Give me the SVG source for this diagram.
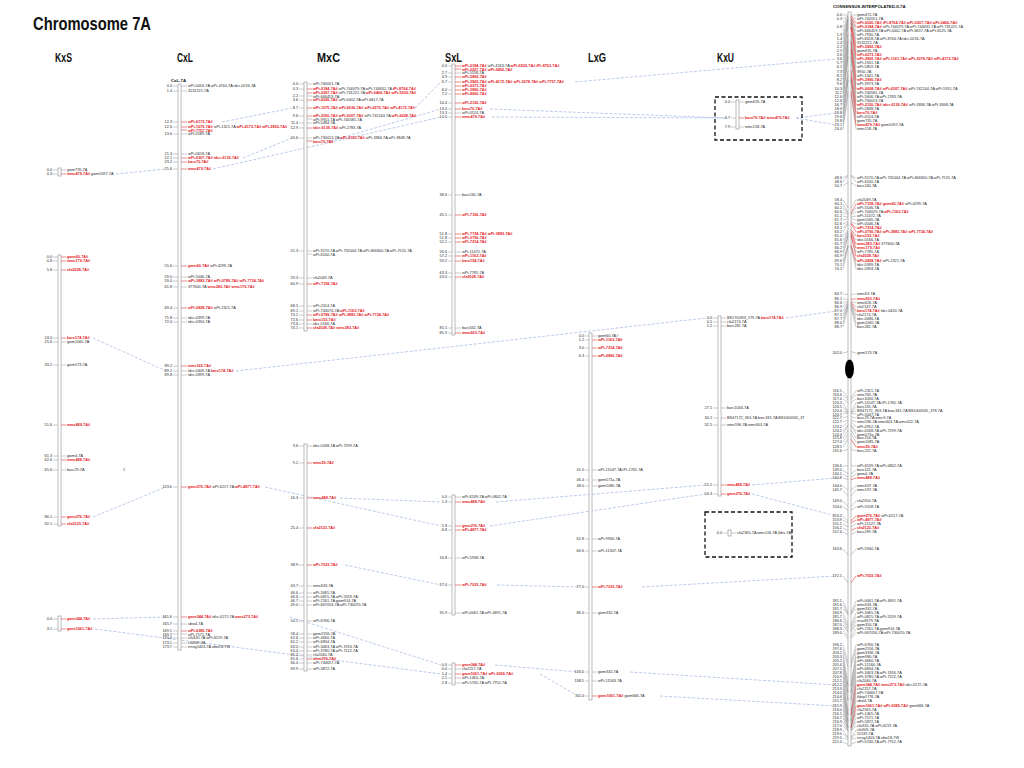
<svg xmlns="http://www.w3.org/2000/svg" width="1024" height="768" viewBox="0 0 1024 768">
<style>
text{font-family:"Liberation Sans",Arial,sans-serif;font-size:3.8px;fill:#2a2a2a}
.r{fill:#e3161b;font-weight:bold}
.n{text-anchor:end}
.hd{font-size:12px;font-weight:bold;fill:#111}
.ttl{font-size:18px;font-weight:bold;fill:#111}
.sub{font-size:4.3px;font-weight:bold;fill:#111}
.bar{fill:#fff;stroke:#7a7a7a;stroke-width:.5}
.tk{stroke:#8a8a8a;stroke-width:.45;fill:none}
.tr{stroke:#e3161b;stroke-width:.5;fill:none}
.cn{stroke:#8eaadb;stroke-width:.6;stroke-dasharray:3 1.6;fill:none}
.box{fill:none;stroke:#111;stroke-width:1.3;stroke-dasharray:4 2.5}
</style>
<rect width="1024" height="768" fill="#fff"/>
<text class="ttl" x="33" y="30" textLength="118" lengthAdjust="spacingAndGlyphs">Chromosome 7A</text>

<g id="connectors">
<path class="cn" d="M116 174L166 169M93 338L166 371M93 517L166 487M93 619L166 617M95 629L441 674M222 122L292 108M243 158L292 138M213 169L441 117M236 371L706 318M265 487L441 526M290 617L441 665M415 108L441 82M330 141L441 109M340 498L441 502M345 565L441 585M575 82L836 59M490 109L726 118M492 117L726 118M796 118L836 113M796 118L836 125M786 318L836 311M496 502L706 485M490 526L706 494M752 485L836 478M752 494L836 516M497 585L578 587M642 587L836 576M495 665L578 672M540 674L578 696M630 672L836 685M660 696L836 706"/>
</g>

<g id="KxS">
<text class="hd" x="55" y="62" textLength="17" lengthAdjust="spacingAndGlyphs">KxS</text>
<rect class="bar" x="58" y="168" width="3" height="8"/>
<rect class="bar" x="58" y="255" width="3" height="271"/>
<rect class="bar" x="58" y="616" width="3" height="15"/>
<path class="tk" d="M53 170H58M53 174H58M53 257H58M53 261H58M53 270H58M53 338H58M53 342H58M53 365H58M53 425H58M53 456H58M53 460H58M53 470H58M53 517H58M53 524H58M53 619H58M53 629H58M61 170H66M61 342H66M61 365H66M61 456H66M61 470H66"/>
<path class="tr" d="M61 174H66M61 257H66M61 261H66M61 270H66M61 338H66M61 425H66M61 460H66M61 517H66M61 524H66M61 619H66M61 629H66"/>
<text class="n" x="52" y="171.3">0.0</text><text x="67" y="171.3">gwm735-7A</text>
<text class="n" x="52" y="175.3">0.3</text><text x="67" y="175.3"><tspan class="r">wmc479-7A#</tspan> gwm1097-7A</text>
<text class="n" x="52" y="258.3">0.0</text><text class="r" x="67" y="258.3">gwm60-7A#</text>
<text class="n" x="52" y="262.3">0.8</text><text class="r" x="67" y="262.3">wmc179-7A#</text>
<text class="n" x="52" y="271.3">5.8</text><text class="r" x="67" y="271.3">cfa2028-7A#</text>
<text class="n" x="52" y="339.3">24.0</text><text class="r" x="67" y="339.3">barc174-7A#</text>
<text class="n" x="52" y="343.3">25.6</text><text x="67" y="343.3">gwm1065-7A</text>
<text class="n" x="52" y="366.3">33.2</text><text x="67" y="366.3">gwm573-7A</text>
<text class="n" x="52" y="426.3">51.6</text><text class="r" x="67" y="426.3">wmc489-7A#</text>
<text class="n" x="52" y="457.3">61.3</text><text x="67" y="457.3">gwm4-7A</text>
<text class="n" x="52" y="461.3">62.6</text><text class="r" x="67" y="461.3">wmc488-7A#</text>
<text class="n" x="52" y="471.3">65.6</text><text x="67" y="471.3">barc29-7A</text>
<text x="123" y="471.3">1</text>
<text class="n" x="52" y="518.3">86.1</text><text class="r" x="67" y="518.3">gwm276-7A#</text>
<text class="n" x="52" y="525.3">92.1</text><text class="r" x="67" y="525.3">cfa2123-7A#</text>
<text class="n" x="52" y="620.3">0.0</text><text class="r" x="67" y="620.3">gwm344-7A#</text>
<text class="n" x="52" y="630.3">3.1</text><text class="r" x="67" y="630.3">gwm1061-7A#</text>
</g>

<g id="CxL">
<text class="hd" x="177" y="62" textLength="16" lengthAdjust="spacingAndGlyphs">CxL</text>
<text class="sub" x="171" y="81.5">CxL-7A</text>
<rect class="bar" x="178" y="84" width="3" height="566"/>
<path class="tk" d="M173 86H178M173 91H178M173 122H178M173 127H178M173 134H178M173 154H178M173 158H178M173 162H178M173 169H178M173 266H178M173 277H178M173 281H178M173 287H178M173 308H178M173 318H178M173 322H178M173 366H178M173 371H178M173 375H178M173 487H178M173 617H178M173 624H178M173 631H178M173 634H178M173 638H178M173 643H178M173 647H178M181 86H187M181 91H187M181 134H187M181 154H187M181 277H187M181 287H187M181 318H187M181 322H187M181 371H187M181 375H187M181 624H187M181 634H187M181 638H187M181 643H187M181 647H187"/>
<path class="tr" d="M181 122H187M181 127H187M181 130H187M181 158H187M181 162H187M181 169H187M181 266H187M181 281H187M181 308H187M181 366H187M181 487H187M181 617H187M181 631H187"/>
<text class="n" x="172" y="87.3">0.0</text><text x="188" y="87.3">wPt-0416-7A wPt-4744-7A tdcr-0216-7A</text>
<text class="n" x="172" y="92.3">1.4</text><text x="188" y="92.3">3132221-7A</text>
<text class="n" x="172" y="123.3">12.3</text><text class="r" x="188" y="123.3">wPt-6173-7A#</text>
<text class="n" x="172" y="128.3">12.6</text><text x="188" y="128.3"><tspan class="r">wPt-1075-7A#</tspan> wPt-1321-7A <tspan class="r">wPt-4172-7A# wPt-2830-7A#</tspan></text>
<text class="r" x="188" y="131.6">wPt-7757-7A#</text>
<text class="n" x="172" y="135.3">13.6</text><text x="188" y="135.3">wPt-0589-7A</text>
<text class="n" x="172" y="155.3">21.3</text><text x="188" y="155.3">wPt-0618-7A</text>
<text class="n" x="172" y="159.3">22.1</text><text class="r" x="188" y="159.3">wPt-6307-7A# tdcr-6139-7A#</text>
<text class="n" x="172" y="163.3">23.2</text><text class="r" x="188" y="163.3">barc70-7A#</text>
<text class="n" x="172" y="170.3">25.6</text><text class="r" x="188" y="170.3">wmc479-7A#</text>
<text class="n" x="172" y="267.3">55.6</text><text x="188" y="267.3"><tspan class="r">gwm60-7A#</tspan> wPt-4299-7A</text>
<text class="n" x="172" y="278.3">59.0</text><text x="188" y="278.3">wPt-5046-7A</text>
<text class="n" x="172" y="282.3">59.0</text><text class="r" x="188" y="282.3">wPt-3883-7A# wPt-0789-7A# wPt-7724-7A#</text>
<text class="n" x="172" y="288.3">61.8</text><text x="188" y="288.3">377600-7A <tspan class="r">wmc283-7A# wmc179-7A#</tspan></text>
<text class="n" x="172" y="309.3">69.4</text><text x="188" y="309.3"><tspan class="r">wPt-0828-7A#</tspan> wPt-2321-7A</text>
<text class="n" x="172" y="319.3">71.8</text><text x="188" y="319.3">tdcr-0399-7A</text>
<text class="n" x="172" y="323.3">72.0</text><text x="188" y="323.3">tdcr-0394-7A</text>
<text class="n" x="172" y="367.3">89.2</text><text class="r" x="188" y="367.3">wmc165-7A#</text>
<text class="n" x="172" y="372.3">89.2</text><text x="188" y="372.3">tdcr-0409-7A <tspan class="r">barc174-7A#</tspan></text>
<text class="n" x="172" y="376.3">89.8</text><text x="188" y="376.3">tdcr-0399-7A</text>
<text class="n" x="172" y="488.3">123.6</text><text x="188" y="488.3"><tspan class="r">gwm276-7A#</tspan> wPt-6217-7A <tspan class="r">wPt-4877-7A#</tspan></text>
<text class="n" x="172" y="618.3">161.6</text><text x="188" y="618.3"><tspan class="r">gwm344-7A#</tspan> tdcr-0172-7A <tspan class="r">wmc273-7A#</tspan></text>
<text class="n" x="172" y="625.3">165.7</text><text x="188" y="625.3">ubw4-7A</text>
<text class="n" x="172" y="632.3">169.1</text><text class="r" x="188" y="632.3">wPt-6385-7A#</text>
<text class="n" x="172" y="635.6">169.7</text><text x="188" y="635.6">wPt-7571-7A</text>
<text class="n" x="172" y="639.3">170.4</text><text x="188" y="639.3">cfa320-7A wPt-6219-7A</text>
<text class="n" x="172" y="644.3">173.1</text><text x="188" y="644.3">cfa909-7A</text>
<text class="n" x="172" y="648.3">173.7</text><text x="188" y="648.3">rrnsg1403-7A ubw18-7W</text>
</g>

<g id="MxC">
<text class="hd" x="317" y="62" textLength="23" lengthAdjust="spacingAndGlyphs">MxC</text>
<rect class="bar" x="304" y="82" width="3" height="249"/>
<rect class="bar" x="304" y="444" width="3" height="227"/>
<path class="tk" d="M299 84H304M299 89H304M299 96H304M299 100H304M299 108H304M299 116H304M299 123H304M299 128H304M299 138H304M299 251H304M299 278H304M299 284H304M299 306H304M299 311H304M299 315H304M299 320H304M299 324H304M299 328H304M299 446H304M299 463H304M299 498H304M299 528H304M299 565H304M299 586H304M299 593H304M299 597H304M299 601H304M299 605H304M299 621H304M299 634H304M299 638H304M299 642H304M299 647H304M299 651H304M299 655H304M299 659H304M299 663H304M299 669H304M307 84H312M307 96H312M307 119H312M307 123H312M307 138H312M307 251H312M307 254H312M307 278H312M307 306H312M307 311H312M307 324H312M307 446H312M307 586H312M307 593H312M307 597H312M307 601H312M307 605H312M307 621H312M307 634H312M307 638H312M307 642H312M307 647H312M307 651H312M307 655H312M307 663H312M307 669H312"/>
<path class="tr" d="M307 89H312M307 93H312M307 100H312M307 108H312M307 116H312M307 128H312M307 141H312M307 284H312M307 315H312M307 320H312M307 328H312M307 463H312M307 498H312M307 528H312M307 565H312M307 659H312"/>
<text class="n" x="298" y="85.3">0.0</text><text x="313" y="85.3">wPt-740051-7A</text>
<text class="n" x="298" y="90.3">0.3</text><text x="313" y="90.3"><tspan class="r">wPt-0184-7A#</tspan> wPt-744079-7A wPt-744631-7A <tspan class="r">tPt-8764-7A#</tspan></text>
<text x="313" y="94.3"><tspan class="r">wPt-0207-7A#</tspan> wPt-731221-7A <tspan class="r">wPt-0466-7A# wPt-5030-7A#</tspan></text>
<text class="n" x="298" y="97.3">2.2</text><text x="313" y="97.6">wPt-666459-7A</text>
<text class="n" x="298" y="101.3">3.6</text><text x="313" y="101.3"><tspan class="r">wPt-6020-7A#</tspan> wPt-0002-7A wPt-6617-7A</text>
<text class="n" x="298" y="109.3">8.7</text><text class="r" x="313" y="109.3">wPt-1075-7A# wPt-6036-7A# wPt-6275-7A# wPt-4172-7A#</text>
<text class="n" x="298" y="117.3">9.6</text><text x="313" y="117.3"><tspan class="r">wPt-2050-7A# wPt-6307-7A#</tspan> wPt-742244-7A <tspan class="r">wPt-6638-7A#</tspan></text>
<text x="313" y="120.6">wPt-9951-7A wPt-740581-7A</text>
<text class="n" x="298" y="124.3">11.4</text><text x="313" y="124.3">wPt-5484-7A</text>
<text class="n" x="298" y="129.3">12.9</text><text x="313" y="129.3"><tspan class="r">tdcr-6139-7A#</tspan> wPt-2783-7A</text>
<text class="n" x="298" y="139.3">20.6</text><text x="313" y="139.3">wPt-730013-7A <tspan class="r">wPt-2120-7A#</tspan> wPt-3384-7A wPt-3848-7A</text>
<text class="r" x="313" y="142.8">barc70-7A#</text>
<text class="n" x="298" y="252.3">51.3</text><text x="313" y="252.3">wPt-9170-7A wPt-732044-7A wPt-666300-7A wPt-7515-7A</text>
<text x="313" y="255.8">wPt-6100-7A</text>
<text class="n" x="298" y="279.3">59.3</text><text x="313" y="279.3">cfa2049-7A</text>
<text class="n" x="298" y="285.3">60.9</text><text class="r" x="313" y="285.3">wPt-7158-7A#</text>
<text class="n" x="298" y="307.3">68.5</text><text x="313" y="307.3">wPt-2014-7A</text>
<text class="n" x="298" y="312.3">69.1</text><text x="313" y="312.3">wPt-744074-7A <tspan class="r">wPt-1163-7A#</tspan></text>
<text class="n" x="298" y="316.3">70.2</text><text class="r" x="313" y="316.3">wPt-0789-7A# wPt-3883-7A# wPt-7724-7A#</text>
<text class="n" x="298" y="321.3">72.6</text><text class="r" x="313" y="321.3">barc153-7A#</text>
<text class="n" x="298" y="325.3">73.6</text><text x="313" y="325.3">tdcr-0166-7A</text>
<text class="n" x="298" y="329.3">74.1</text><text class="r" x="313" y="329.3">cfa2028-7A# wmc283-7A#</text>
<text class="n" x="298" y="447.3">3.6</text><text x="313" y="447.3">tdcr-0168-7A wPt-7299-7A</text>
<text class="n" x="298" y="464.3">9.2</text><text class="r" x="313" y="464.3">wmc59-7A#</text>
<text class="n" x="298" y="499.3">16.3</text><text class="r" x="313" y="499.3">wmc488-7A#</text>
<text class="n" x="298" y="529.3">25.4</text><text class="r" x="313" y="529.3">cfa2123-7A#</text>
<text class="n" x="298" y="566.3">38.9</text><text class="r" x="313" y="566.3">wPt-7033-7A#</text>
<text class="n" x="298" y="587.3">43.7</text><text x="313" y="587.3">wmc633-7A</text>
<text class="n" x="298" y="594.3">46.6</text><text x="313" y="594.3">wPt-3465-7A</text>
<text class="n" x="298" y="598.3">46.6</text><text x="313" y="598.3">wPt-0815-7A wPt-5559-7A</text>
<text class="n" x="298" y="602.3">46.7</text><text x="313" y="602.3">wPt-7261-7A gwm914-7A</text>
<text class="n" x="298" y="606.3">49.0</text><text x="313" y="606.3">wPt-667056-7A wPt-730070-7A</text>
<text class="n" x="298" y="622.3">54.1</text><text x="313" y="622.3">wPt-6766-7A</text>
<text class="n" x="298" y="635.3">58.4</text><text x="313" y="635.3">gwm2556-7A</text>
<text class="n" x="298" y="639.3">62.6</text><text x="313" y="639.3">wPt-4660-7A</text>
<text class="n" x="298" y="643.3">62.2</text><text x="313" y="643.3">wPt-6834-7A</text>
<text class="n" x="298" y="648.3">63.0</text><text x="313" y="648.3">wPt-3463-7A wPt-1916-7A</text>
<text class="n" x="298" y="652.3">63.4</text><text x="313" y="652.3">wPt-3780-7A wPt-7122-7A</text>
<text class="n" x="298" y="656.3">65.2</text><text x="313" y="656.3">cfa2040-7A</text>
<text class="n" x="298" y="660.3">65.6</text><text class="r" x="313" y="660.3">wmc276-7A#</text>
<text class="n" x="298" y="664.3">66.4</text><text x="313" y="664.3">wPt-744657-7A</text>
<text class="n" x="298" y="670.3">69.9</text><text x="313" y="670.3">wPt-3872-7A</text>
</g>

<g id="SxL">
<text class="hd" x="445" y="62" textLength="17" lengthAdjust="spacingAndGlyphs">SxL</text>
<rect class="bar" x="452" y="64" width="3" height="271"/>
<rect class="bar" x="452" y="495" width="3" height="120"/>
<rect class="bar" x="452" y="663" width="3" height="22"/>
<path class="tk" d="M448 66H452M448 73H452M448 77H452M448 82H452M448 90H452M448 94H452M448 103H452M448 109H452M448 113H452M448 117H452M448 195H452M448 215H452M448 234H452M448 238H452M448 242H452M448 252H452M448 256H452M448 261H452M448 273H452M448 277H452M448 328H452M448 333H452M448 497H452M448 502H452M448 526H452M448 530H452M448 558H452M448 585H452M448 613H452M448 665H452M448 669H452M448 674H452M448 678H452M448 683H452M455 73H461M455 113H461M455 195H461M455 252H461M455 273H461M455 328H461M455 497H461M455 558H461M455 613H461M455 669H461M455 678H461M455 683H461"/>
<path class="tr" d="M455 66H461M455 69H461M455 77H461M455 82H461M455 86H461M455 90H461M455 94H461M455 103H461M455 109H461M455 117H461M455 215H461M455 234H461M455 238H461M455 242H461M455 256H461M455 261H461M455 277H461M455 333H461M455 502H461M455 526H461M455 530H461M455 585H461M455 665H461M455 674H461"/>
<text class="n" x="447" y="67.3">0.0</text><text x="462" y="67.3"><tspan class="r">wPt-0184-7A#</tspan> wPt-4563-7A <tspan class="r">wPt-6520-7A# tPt-8763-7A#</tspan></text>
<text class="r" x="462" y="70.6">wPt-0207-7A# wPt-5450-7A#</text>
<text class="n" x="447" y="74.3">2.7</text><text x="462" y="74.3">wPt-5558-7A</text>
<text class="n" x="447" y="78.3">4.9</text><text class="r" x="462" y="78.3">wPt-5892-7A#</text>
<text class="n" x="447" y="83.3">6.7</text><text class="r" x="462" y="83.3">wPt-2805-7A# wPt-4172-7A# wPt-3078-7A# wPt-7757-7A#</text>
<text class="r" x="462" y="87.3">wPt-6273-7A#</text>
<text class="n" x="447" y="91.3">6.0</text><text class="r" x="462" y="91.3">wPt-2890-7A#</text>
<text class="n" x="447" y="95.3">7.2</text><text class="r" x="462" y="95.3">wPt-8660-7A#</text>
<text class="n" x="447" y="104.3">10.4</text><text class="r" x="462" y="104.3">wPt-2120-7A#</text>
<text class="n" x="447" y="110.3">13.0</text><text class="r" x="462" y="110.3">barc70-7A#</text>
<text class="n" x="447" y="114.3">13.3</text><text x="462" y="114.3">wPt-0524-7A</text>
<text class="n" x="447" y="118.3">14.0</text><text class="r" x="462" y="118.3">wmc479-7A#</text>
<text class="n" x="447" y="196.3">38.6</text><text x="462" y="196.3">barc240-7A</text>
<text class="n" x="447" y="216.3">45.1</text><text class="r" x="462" y="216.3">wPt-7166-7A#</text>
<text class="n" x="447" y="235.3">51.8</text><text class="r" x="462" y="235.3">wPt-7724-7A# wPt-3883-7A#</text>
<text class="n" x="447" y="239.3">51.8</text><text class="r" x="462" y="239.3">wPt-0790-7A#</text>
<text class="n" x="447" y="243.3">52.1</text><text class="r" x="462" y="243.3">wPt-7214-7A#</text>
<text class="n" x="447" y="253.3">56.6</text><text x="462" y="253.3">wPt-11472-7A</text>
<text class="n" x="447" y="257.3">57.2</text><text class="r" x="462" y="257.3">wPt-1163-7A#</text>
<text class="n" x="447" y="262.3">59.2</text><text class="r" x="462" y="262.3">barc154-7A#</text>
<text class="n" x="447" y="274.3">63.3</text><text x="462" y="274.3">wPt-7785-7A</text>
<text class="n" x="447" y="278.3">63.0</text><text class="r" x="462" y="278.3">cfa2028-7A#</text>
<text class="n" x="447" y="329.3">85.5</text><text x="462" y="329.3">barc632-7A</text>
<text class="n" x="447" y="334.3">85.9</text><text class="r" x="462" y="334.3">wmc603-7A#</text>
<text class="n" x="447" y="498.3">0.0</text><text x="462" y="498.3">wPt-6539-7A wPt-0842-7A</text>
<text class="n" x="447" y="503.3">1.3</text><text class="r" x="462" y="503.3">wmc488-7A#</text>
<text class="n" x="447" y="527.3">5.8</text><text class="r" x="462" y="527.3">gwm276-7A#</text>
<text class="n" x="447" y="531.3">6.8</text><text class="r" x="462" y="531.3">wPt-4877-7A#</text>
<text class="n" x="447" y="559.3">16.8</text><text x="462" y="559.3">wPt-5938-7A</text>
<text class="n" x="447" y="586.3">27.0</text><text class="r" x="462" y="586.3">wPt-7033-7A#</text>
<text class="n" x="447" y="614.3">35.9</text><text x="462" y="614.3">wPt-0061-7A wPt-4691-7A</text>
<text class="n" x="447" y="666.3">0.0</text><text class="r" x="462" y="666.3">gwm344-7A#</text>
<text class="n" x="447" y="670.3">0.0</text><text x="462" y="670.3">cfa2257-7A</text>
<text class="n" x="447" y="675.3">1.4</text><text class="r" x="462" y="675.3">gwm1061-7A# wPt-6365-7A#</text>
<text class="n" x="447" y="679.3">2.1</text><text x="462" y="679.3">wPt-1465-7A</text>
<text class="n" x="447" y="684.3">2.8</text><text x="462" y="684.3">wPt-5745-7A wPt-7752-7A</text>
</g>

<g id="LxG">
<text class="hd" x="588" y="62" textLength="18" lengthAdjust="spacingAndGlyphs">LxG</text>
<rect class="bar" x="589" y="333" width="3" height="367"/>
<path class="tk" d="M585 336H589M585 340H589M585 348H589M585 356H589M585 470H589M585 480H589M585 486H589M585 539H589M585 551H589M585 587H589M585 613H589M585 672H589M585 681H589M585 696H589M592 336H597M592 470H597M592 480H597M592 486H597M592 539H597M592 551H597M592 613H597M592 672H597M592 681H597"/>
<path class="tr" d="M592 340H597M592 348H597M592 356H597M592 587H597M592 696H597"/>
<text class="n" x="584" y="337.3">0.0</text><text x="598" y="337.3">gwm60-7A#</text>
<text class="n" x="584" y="341.3">1.2</text><text class="r" x="598" y="341.3">wPt-1163-7A#</text>
<text class="n" x="584" y="349.3">3.0</text><text class="r" x="598" y="349.3">wPt-7214-7A#</text>
<text class="n" x="584" y="357.3">6.3</text><text class="r" x="598" y="357.3">wPt-0890-7A#</text>
<text class="n" x="584" y="471.3">41.0</text><text x="598" y="471.3">wPt-11547-7A tPt-1765-7A</text>
<text class="n" x="584" y="481.3">46.4</text><text x="598" y="481.3">gwm571a-7A</text>
<text class="n" x="584" y="487.3">48.0</text><text x="598" y="487.3">gwm1085-7A</text>
<text class="n" x="584" y="540.3">62.8</text><text x="598" y="540.3">wPt-9930-7A</text>
<text class="n" x="584" y="552.3">66.6</text><text x="598" y="552.3">wPt-11307-7A</text>
<text class="n" x="584" y="588.3">77.0</text><text class="r" x="598" y="588.3">wPt-7033-7A#</text>
<text class="n" x="584" y="614.3">86.0</text><text x="598" y="614.3">gwm332-7A</text>
<text class="n" x="584" y="673.3">133.0</text><text x="598" y="673.3">gwm342-7A</text>
<text class="n" x="584" y="682.3">138.5</text><text x="598" y="682.3">wPt-11563-7A</text>
<text class="n" x="584" y="697.3">111.0</text><text x="598" y="697.3"><tspan class="r">gwm1061-7A#</tspan> gwm666-7A</text>
</g>

<g id="KxU">
<text class="hd" x="717" y="62" textLength="17" lengthAdjust="spacingAndGlyphs">KxU</text>
<rect class="box" x="715" y="97" width="87" height="43"/>
<rect class="bar" x="736" y="100" width="3" height="29"/>
<path class="tk" d="M731 102H736M731 118H736M731 127H736M739 102H744M739 127H744"/>
<path class="tr" d="M739 118H744"/>
<text class="n" x="730" y="103.3">0.0</text><text x="745" y="103.3">gwm635-7A</text>
<text class="n" x="730" y="119.3">4.7</text><text class="r" x="745" y="119.3">barc70-7A# wmc479-7A#</text>
<text class="n" x="730" y="128.3">7.9</text><text x="745" y="128.3">wmc158-7A</text>
<rect class="bar" x="718" y="316" width="3" height="180"/>
<path class="tk" d="M713 318H718M713 322H718M713 326H718M713 408H718M713 418H718M713 425H718M713 485H718M713 494H718M721 318H726M721 322H726M721 326H726M721 408H726M721 418H726M721 425H726"/>
<path class="tr" d="M721 485H726M721 494H726"/>
<text class="n" x="712" y="319.3">0.0</text><text x="727" y="319.3">BS17/0493_179-7A <tspan class="r">barc174-7A#</tspan></text>
<text class="n" x="712" y="323.3">0.5</text><text x="727" y="323.3">cfa2174-7A</text>
<text class="n" x="712" y="327.3">1.2</text><text x="727" y="327.3">barc282-7A</text>
<text class="n" x="712" y="409.3">27.1</text><text x="727" y="409.3">barc1034-7A</text>
<text class="n" x="712" y="419.3">30.2</text><text x="727" y="419.3">BS47172_363-7A barc181-7A BS1000565_37</text>
<text class="n" x="712" y="426.3">32.5</text><text x="727" y="426.3">wmc596-7A wmc603-7A</text>
<text class="n" x="712" y="486.3">51.2</text><text class="r" x="727" y="486.3">wmc488-7A#</text>
<text class="n" x="712" y="495.3">54.3</text><text class="r" x="727" y="495.3">gwm276-7A#</text>
<rect class="box" x="705" y="512" width="87" height="45"/>
<rect class="bar" x="728" y="530" width="3" height="6"/>
<path class="tk" d="M723 533H728M731 533H736"/>
<text class="n" x="722" y="534.3">0.0</text><text x="737" y="534.3">cfa2365-7A wmc116-7A (kbs-7A)</text>
</g>

<g id="Consensus">
<text class="sub" x="833" y="8">CONSENSUS-INTERPOLATED-II-7A</text>
<rect class="bar" x="848" y="12" width="3" height="734"/>
<ellipse cx="849.5" cy="369" rx="4.5" ry="9.5" fill="#000"/>
<path class="tk" d="M843 15L848 15M843 19L848 16M843 23L848 16M843 27L848 17.6M843 31L848 17.6M843 35L848 19.3M843 39L848 19.6M843 43L848 19.6M843 47L848 22.3M843 51L848 23.3M843 55L848 26.9M843 59L848 26.9M843 63L848 33.8M843 67L848 35.1M843 72L848 39.1M843 76L848 41.7M843 80L848 42.1M843 84L848 46.7M843 89L848 49M843 93L848 52M843 97L848 56.6M843 101L848 56.6M843 105L848 70.1M843 109L848 74.4M843 113L848 77M843 117L848 79.7M843 121L848 80.3M843 125L848 91.2M843 129L848 94.2M843 178L848 175.4M843 182L848 175.4M843 186L848 182.3M843 200L848 207.7M843 204L848 213.3M843 208L848 213.7M843 212L848 215M843 216L848 217M843 220L848 218.6M843 224L848 221.6M843 228L848 223.2M843 232L848 223.6M843 236L848 229.5M843 240L848 231.5M843 244L848 231.8M843 248L848 233.5M843 252L848 235.8M843 256L848 235.8M843 261L848 244.7M843 265L848 246.3M843 269L848 246.3M843 294L848 294.5M843 299L848 299.1M843 303L848 300.8M843 307L848 301.8M843 311L848 302.1M843 315L848 303.8M843 319L848 304.4M843 323L848 305.4M843 327L848 307.7M843 353L848 351.6M843 391L848 398.1M843 395L848 399.8M843 399L848 402.4M843 403L848 412M843 407L848 412.7M843 411L848 412.5M843 414L848 413.3M843 418L848 416.6M843 422L848 419.9M843 427L848 421.6M843 431L848 424.9M843 434L848 425.5M843 438L848 430.1M843 442L848 434.1M843 447L848 439.1M843 451L848 449.3M843 466L848 465.8M843 470L848 473.7M843 474L848 477.3M843 478L848 479.6M843 486L848 490.2M843 490L848 495.8M843 501L848 506.7M843 507L848 510M843 516L848 520.9M843 520L848 522.9M843 524L848 526.8M843 528L848 530.5M843 532L848 534.4M843 549L848 554.9M843 576L848 582.9M843 601L848 612.6M843 605L848 614.3M843 609L848 614.6M843 613L848 625.2M843 617L848 627.8M843 621L848 630.8M843 625L848 632.1M843 629L848 636.4M843 633L848 638.7M843 645L848 662.5M843 649L848 667.1M843 653L848 685.6M843 657L848 685.9M843 661L848 692.2M843 665L848 692.8M843 669L848 699.8M843 673L848 700.7M843 677L848 711M843 681L848 715M843 685L848 715.3M843 689L848 720.9M843 693L848 721.2M843 697L848 722.5M843 701L848 726.8M843 706L848 727.5M843 710L848 727.8M843 714L848 728.1M843 718L848 730.1M843 722L848 730.8M843 726L848 731.1M843 730L848 737.4M843 734L848 737.7M843 738L848 739.4M843 742L848 744.3"/>
<path class="tk" d="M851 15L856 15M851 16L856 19M851 17.6L856 31M851 19.3L856 35M851 19.6L856 39M851 19.6L856 43M851 23.3L856 51M851 33.8L856 63M851 35.1L856 67M851 39.1L856 72M851 41.7L856 76M851 46.7L856 84M851 52L856 93M851 56.6L856 97M851 56.6L856 101M851 74.4L856 109M851 79.7L856 117M851 80.3L856 121M851 94.2L856 129M851 175.4L856 178M851 175.4L856 182M851 182.3L856 186M851 207.7L856 200M851 213.7L856 208M851 215L856 212M851 217L856 216M851 218.6L856 220M851 221.6L856 224M851 231.5L856 240M851 235.8L856 252M851 246.3L856 265M851 246.3L856 269M851 294.5L856 294M851 300.8L856 303M851 301.8L856 307M851 303.8L856 315M851 304.4L856 319M851 305.4L856 323M851 307.7L856 327M851 351.6L856 353M851 398.1L856 391M851 399.8L856 395M851 402.4L856 399M851 412L856 403M851 412.7L856 407M851 412.5L856 411M851 413.3L856 414M851 416.6L856 418M851 419.9L856 422M851 421.6L856 427M851 424.9L856 431M851 425.5L856 434M851 430.1L856 438M851 434.1L856 442M851 449.3L856 451M851 465.8L856 466M851 473.7L856 470M851 477.3L856 474M851 490.2L856 486M851 495.8L856 490M851 506.7L856 501M851 510L856 507M851 526.8L856 524M851 534.4L856 532M851 554.9L856 549M851 612.6L856 601M851 614.3L856 605M851 614.6L856 609M851 625.2L856 613M851 627.8L856 617M851 630.8L856 621M851 632.1L856 625M851 636.4L856 629M851 638.7L856 633M851 662.5L856 645M851 667.1L856 649M851 685.6L856 653M851 685.9L856 657M851 692.2L856 661M851 692.8L856 665M851 699.8L856 669M851 700.7L856 673M851 711L856 677M851 715L856 681M851 720.9L856 689M851 721.2L856 693M851 722.5L856 697M851 726.8L856 701M851 727.8L856 710M851 728.1L856 714M851 730.1L856 718M851 730.8L856 722M851 731.1L856 726M851 737.4L856 730M851 737.7L856 734M851 739.4L856 738M851 744.3L856 742"/>
<path class="tr" d="M851 16L856 23M851 17.6L856 27M851 22.3L856 47M851 26.9L856 55M851 26.9L856 59M851 42.1L856 80M851 49L856 89M851 70.1L856 105M851 77L856 113M851 91.2L856 125M851 213.3L856 204M851 223.2L856 228M851 223.6L856 232M851 229.5L856 236M851 231.8L856 244M851 233.5L856 248M851 235.8L856 256M851 244.7L856 261M851 299.1L856 299M851 302.1L856 311M851 439.1L856 447M851 479.6L856 478M851 520.9L856 516M851 522.9L856 520M851 530.5L856 528M851 582.9L856 576M851 715.3L856 685M851 727.5L856 706"/>
<text class="n" x="842" y="16.3">0.0</text><text x="857" y="16.3">gwm471-7A</text>
<text class="n" x="842" y="20.3">0.3</text><text x="857" y="20.3">wPt-742051-7A</text>
<text class="r" x="857" y="24.3">wPt-6020-7A# tPt-8764-7A# wPt-0207-7A# wPt-0466-7A#</text>
<text class="n" x="842" y="28.3">0.8</text><text x="857" y="28.3"><tspan class="r">wPt-0184-7A#</tspan> wPt-744079-7A wPt-744631-7A wPt-731221-7A</text>
<text x="857" y="32.3">wPt-666459-7A wPt-0002-7A wPt-6617-7A wPt-6525-7A</text>
<text class="n" x="842" y="36.3">1.3</text><text x="857" y="36.3">wPt-7930-7A</text>
<text class="n" x="842" y="40.3">1.4</text><text x="857" y="40.3">wPt-8418-7A wPt-8744-7A tdcr-0216-7A</text>
<text class="n" x="842" y="44.3">1.4</text><text x="857" y="44.3">3132221-7A</text>
<text class="n" x="842" y="48.3">2.2</text><text class="r" x="857" y="48.3">wPt-5892-7A#</text>
<text class="n" x="842" y="52.3">2.5</text><text x="857" y="52.3">gwm635-7A</text>
<text class="n" x="842" y="56.3">3.6</text><text class="r" x="857" y="56.3">wPt-6273-7A#</text>
<text class="n" x="842" y="60.3">3.6</text><text class="r" x="857" y="60.3">wPt-2805-7A# wPt-1161-7A# wPt-3078-7A# wPt-4172-7A#</text>
<text class="n" x="842" y="64.3">5.7</text><text x="857" y="64.3">wPt-1901-7A</text>
<text class="n" x="842" y="68.3">6.1</text><text x="857" y="68.3">wPt-5859-7A</text>
<text class="n" x="842" y="73.3">7.3</text><text x="857" y="73.3">3950-7A</text>
<text class="n" x="842" y="77.3">8.1</text><text x="857" y="77.3">wPt-1441-7A</text>
<text class="n" x="842" y="81.3">8.2</text><text class="r" x="857" y="81.3">wPt-2890-7A#</text>
<text class="n" x="842" y="85.3">9.6</text><text x="857" y="85.3">wPt-3973-7A</text>
<text class="n" x="842" y="90.3">10.3</text><text x="857" y="90.3"><tspan class="r">wPt-6608-7A# wPt-6307-7A#</tspan> wPt-742244-7A wPt-5951-7A</text>
<text class="n" x="842" y="94.3">11.2</text><text x="857" y="94.3">wPt-740581-7A</text>
<text class="n" x="842" y="98.3">12.6</text><text x="857" y="98.3">wPt-5606-7A wPt-2783-7A</text>
<text class="n" x="842" y="102.3">12.6</text><text x="857" y="102.3">wPt-730013-7A</text>
<text class="n" x="842" y="106.3">16.7</text><text x="857" y="106.3"><tspan class="r">wPt-2120-7A# tdcr-6139-7A#</tspan> wPt-3384-7A wPt-3848-7A</text>
<text class="n" x="842" y="110.3">18.0</text><text x="857" y="110.3">wPt-5848-7A</text>
<text class="n" x="842" y="114.3">18.8</text><text class="r" x="857" y="114.3">barc70-7A#</text>
<text class="n" x="842" y="118.3">19.6</text><text x="857" y="118.3">wPt-0524-7A</text>
<text class="n" x="842" y="122.3">19.8</text><text x="857" y="122.3">gwm735-7A</text>
<text class="n" x="842" y="126.3">23.1</text><text x="857" y="126.3"><tspan class="r">wmc479-7A#</tspan> gwm1097-7A</text>
<text class="n" x="842" y="130.3">24.0</text><text x="857" y="130.3">wmc158-7A</text>
<text class="n" x="842" y="179.3">48.6</text><text x="857" y="179.3">wPt-9170-7A wPt-732044-7A wPt-666300-7A wPt-7515-7A</text>
<text class="n" x="842" y="183.3">48.6</text><text x="857" y="183.3">wPt-6100-7A</text>
<text class="n" x="842" y="187.3">50.7</text><text x="857" y="187.3">barc240-7A</text>
<text class="n" x="842" y="201.3">58.4</text><text x="857" y="201.3">cfa2049-7A</text>
<text class="n" x="842" y="205.3">60.1</text><text x="857" y="205.3"><tspan class="r">wPt-7158-7A# gwm60-7A#</tspan> wPt-4299-7A</text>
<text class="n" x="842" y="209.3">60.2</text><text x="857" y="209.3">wPt-5546-7A</text>
<text class="n" x="842" y="213.3">60.6</text><text x="857" y="213.3">wPt-744029-7A <tspan class="r">wPt-1163-7A#</tspan></text>
<text class="n" x="842" y="217.3">61.2</text><text x="857" y="217.3">wPt-11472-7A</text>
<text class="n" x="842" y="221.3">61.7</text><text x="857" y="221.3">gwm1065-7A</text>
<text class="n" x="842" y="225.3">62.6</text><text x="857" y="225.3">wPt-0046-7A</text>
<text class="n" x="842" y="229.3">63.1</text><text class="r" x="857" y="229.3">wPt-7214-7A#</text>
<text class="n" x="842" y="233.3">63.2</text><text class="r" x="857" y="233.3">wPt-0790-7A# wPt-3883-7A# wPt-7724-7A#</text>
<text class="n" x="842" y="237.3">65.0</text><text class="r" x="857" y="237.3">barc153-7A#</text>
<text class="n" x="842" y="241.3">65.6</text><text x="857" y="241.3">tdcr-0166-7A</text>
<text class="n" x="842" y="245.3">65.7</text><text x="857" y="245.3"><tspan class="r">wmc283-7A#</tspan> 377600-7A</text>
<text class="n" x="842" y="249.3">66.2</text><text class="r" x="857" y="249.3">wmc179-7A#</text>
<text class="n" x="842" y="253.3">66.9</text><text x="857" y="253.3">wPt-7785-7A</text>
<text class="n" x="842" y="257.3">66.9</text><text class="r" x="857" y="257.3">cfa2028-7A#</text>
<text class="n" x="842" y="262.3">69.6</text><text x="857" y="262.3"><tspan class="r">wPt-0828-7A#</tspan> wPt-2321-7A</text>
<text class="n" x="842" y="266.3">70.1</text><text x="857" y="266.3">tdcr-0399-7A</text>
<text class="n" x="842" y="270.3">70.1</text><text x="857" y="270.3">tdcr-0394-7A</text>
<text class="n" x="842" y="295.3">84.7</text><text x="857" y="295.3">wmc63-7A</text>
<text class="n" x="842" y="300.3">86.1</text><text class="r" x="857" y="300.3">wmc603-7A#</text>
<text class="n" x="842" y="304.3">86.6</text><text x="857" y="304.3">wmc626-7A</text>
<text class="n" x="842" y="308.3">86.9</text><text x="857" y="308.3">cfa2147-7A</text>
<text class="n" x="842" y="312.3">87.0</text><text x="857" y="312.3"><tspan class="r">barc174-7A#</tspan> tdcr-0420-7A</text>
<text class="n" x="842" y="316.3">87.5</text><text x="857" y="316.3">cfa2174-7A</text>
<text class="n" x="842" y="320.3">87.7</text><text x="857" y="320.3">tdcr-0086-7A</text>
<text class="n" x="842" y="324.3">88.0</text><text x="857" y="324.3">gwm1065-7A</text>
<text class="n" x="842" y="328.3">88.7</text><text x="857" y="328.3">barc282-7A</text>
<text class="n" x="842" y="354.3">102.0</text><text x="857" y="354.3">gwm573-7A</text>
<text class="n" x="842" y="392.3">116.1</text><text x="857" y="392.3">wPt-2321-7A</text>
<text class="n" x="842" y="396.3">116.6</text><text x="857" y="396.3">wmc765-7A</text>
<text class="n" x="842" y="400.3">117.4</text><text x="857" y="400.3">barc1034-7A</text>
<text class="n" x="842" y="404.3">120.3</text><text x="857" y="404.3">wPt-11547-7A tPt-1765-7A</text>
<text class="n" x="842" y="408.3">120.5</text><text x="857" y="408.3">barc135-7A</text>
<text class="n" x="842" y="412.3">120.4</text><text x="857" y="412.3">BS47172_363-7A barc181-7A BS1000565_378-7A</text>
<text class="n" x="842" y="415.6">120.7</text><text x="857" y="415.6">wPt-5047-7A</text>
<text class="n" x="842" y="419.3">121.7</text><text x="857" y="419.3">barc29-7A wmc9-7A</text>
<text class="n" x="842" y="423.3">122.7</text><text x="857" y="423.3">wmc596-7A wmc603-7A wmc422-7A</text>
<text class="n" x="842" y="428.3">123.2</text><text x="857" y="428.3">wPt-0952-7A</text>
<text class="n" x="842" y="432.3">124.2</text><text x="857" y="432.3">tdcr-0168-7A wPt-7299-7A</text>
<text class="n" x="842" y="435.6">124.4</text><text x="857" y="435.6">gwm571a-7A</text>
<text class="n" x="842" y="439.3">125.8</text><text x="857" y="439.3">barc154-7A</text>
<text class="n" x="842" y="443.3">127.0</text><text x="857" y="443.3">gwm1085-7A</text>
<text class="n" x="842" y="448.3">128.5</text><text class="r" x="857" y="448.3">wmc59-7A#</text>
<text class="n" x="842" y="452.3">131.6</text><text x="857" y="452.3">barc222-7A</text>
<text class="n" x="842" y="467.3">136.6</text><text x="857" y="467.3">wPt-6539-7A wPt-0842-7A</text>
<text class="n" x="842" y="471.3">139.0</text><text x="857" y="471.3">barc121-7A</text>
<text class="n" x="842" y="475.3">140.1</text><text x="857" y="475.3">gwm4-7A</text>
<text class="n" x="842" y="479.3">140.8</text><text class="r" x="857" y="479.3">wmc488-7A#</text>
<text class="n" x="842" y="487.3">144.0</text><text x="857" y="487.3">wmc637-7A</text>
<text class="n" x="842" y="491.3">145.7</text><text x="857" y="491.3">wmc197-7A</text>
<text class="n" x="842" y="502.3">149.0</text><text x="857" y="502.3">cfa2050-7A</text>
<text class="n" x="842" y="508.3">150.0</text><text x="857" y="508.3">wPt-5558-7A</text>
<text class="n" x="842" y="517.3">153.3</text><text x="857" y="517.3"><tspan class="r">gwm276-7A#</tspan> wPt-6217-7A</text>
<text class="n" x="842" y="521.3">153.9</text><text class="r" x="857" y="521.3">wPt-4877-7A#</text>
<text class="n" x="842" y="525.3">155.1</text><text x="857" y="525.3">wPt-11527-7A</text>
<text class="n" x="842" y="529.3">156.2</text><text class="r" x="857" y="529.3">cfa2123-7A#</text>
<text class="n" x="842" y="533.3">157.4</text><text x="857" y="533.3">barc299-7A</text>
<text class="n" x="842" y="550.3">163.6</text><text x="857" y="550.3">wPt-5940-7A</text>
<text class="n" x="842" y="577.3">172.1</text><text class="r" x="857" y="577.3">wPt-7033-7A#</text>
<text class="n" x="842" y="602.3">181.1</text><text x="857" y="602.3">wPt-0061-7A wPt-4691-7A</text>
<text class="n" x="842" y="606.3">181.6</text><text x="857" y="606.3">wmc633-7A</text>
<text class="n" x="842" y="610.3">181.7</text><text x="857" y="610.3">gwm332-7A</text>
<text class="n" x="842" y="614.3">184.9</text><text x="857" y="614.3">wPt-3465-7A</text>
<text class="n" x="842" y="618.3">185.7</text><text x="857" y="618.3">wPt-0815-7A wPt-5559-7A</text>
<text class="n" x="842" y="622.3">186.6</text><text x="857" y="622.3">rnsu8179-7A</text>
<text class="n" x="842" y="626.3">187.0</text><text x="857" y="626.3">gwm350-7A</text>
<text class="n" x="842" y="630.3">188.3</text><text x="857" y="630.3">wPt-7261-7A gwm914-7A</text>
<text class="n" x="842" y="634.3">189.0</text><text x="857" y="634.3">wPt-667056-7A wPt-730070-7A</text>
<text class="n" x="842" y="646.3">196.2</text><text x="857" y="646.3">wPt-6766-7A</text>
<text class="n" x="842" y="650.3">197.6</text><text x="857" y="650.3">gwm2556-7A</text>
<text class="n" x="842" y="654.3">203.2</text><text x="857" y="654.3">gwm3336-7A</text>
<text class="n" x="842" y="658.3">203.3</text><text x="857" y="658.3">gwm980-7A</text>
<text class="n" x="842" y="662.3">205.2</text><text x="857" y="662.3">wPt-4660-7A</text>
<text class="n" x="842" y="666.3">205.4</text><text x="857" y="666.3">wPt-11560-7A</text>
<text class="n" x="842" y="670.3">207.5</text><text x="857" y="670.3">wPt-6834-7A</text>
<text class="n" x="842" y="674.3">207.8</text><text x="857" y="674.3">wPt-3463-7A wPt-1916-7A</text>
<text class="n" x="842" y="678.3">210.9</text><text x="857" y="678.3">wPt-3780-7A wPt-7122-7A</text>
<text class="n" x="842" y="682.3">212.1</text><text x="857" y="682.3">cfa2040-7A</text>
<text class="n" x="842" y="686.3">212.2</text><text x="857" y="686.3"><tspan class="r">gwm344-7A# wmc273-7A#</tspan> tdcr-0172-7A</text>
<text class="n" x="842" y="690.3">213.9</text><text x="857" y="690.3">cfa2257-7A</text>
<text class="n" x="842" y="694.3">214.0</text><text x="857" y="694.3">wPt-744657-7A</text>
<text class="n" x="842" y="698.3">214.6</text><text x="857" y="698.3">tldsp1776-7A</text>
<text class="n" x="842" y="702.3">215.7</text><text x="857" y="702.3">ubw4-7A</text>
<text class="n" x="842" y="707.3">215.9</text><text x="857" y="707.3"><tspan class="r">gwm1061-7A# wPt-6385-7A#</tspan> gwm666-7A</text>
<text class="n" x="842" y="711.3">216.0</text><text x="857" y="711.3">cfa2565-7A</text>
<text class="n" x="842" y="715.3">216.1</text><text x="857" y="715.3">wPt-1465-7A</text>
<text class="n" x="842" y="719.3">216.7</text><text x="857" y="719.3">wPt-7571-7A</text>
<text class="n" x="842" y="723.3">216.9</text><text x="857" y="723.3">wPt-5872-7A</text>
<text class="n" x="842" y="727.3">217.0</text><text x="857" y="727.3">cfa320-7A wPt-6219-7A</text>
<text class="n" x="842" y="731.3">218.9</text><text x="857" y="731.3">cfa909-7A</text>
<text class="n" x="842" y="735.3">219.0</text><text x="857" y="735.3">11539-7A</text>
<text class="n" x="842" y="739.3">219.5</text><text x="857" y="739.3">rrnsg1403-7A ubw18-7W</text>
<text class="n" x="842" y="743.3">221.0</text><text x="857" y="743.3">wPt-0740-7A wPt-7752-7A</text>
</g>
</svg>
